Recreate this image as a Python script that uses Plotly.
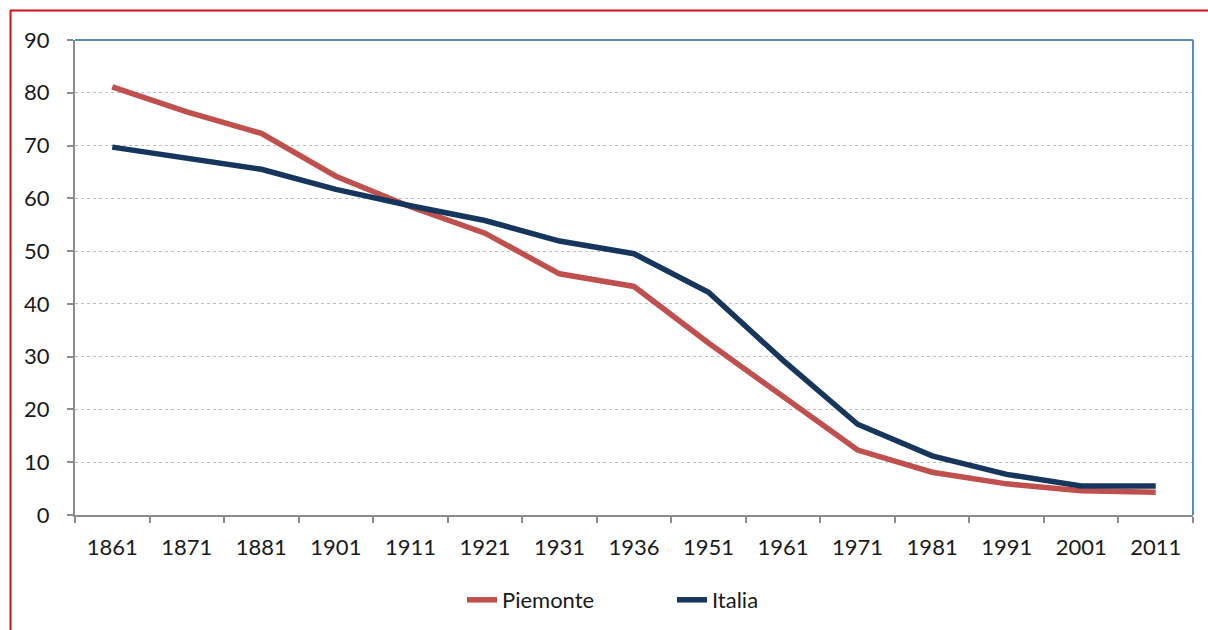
import plotly.graph_objects as go

years = ["1861", "1871", "1881", "1901", "1911", "1921", "1931", "1936",
         "1951", "1961", "1971", "1981", "1991", "2001", "2011"]
piemonte = [81.1, 76.4, 72.3, 64.2, 58.4, 53.4, 45.7, 43.3, 32.6, 22.4, 12.3, 8.1, 5.9, 4.6, 4.3]
italia = [69.7, 67.6, 65.5, 61.7, 58.6, 55.8, 51.9, 49.5, 42.2, 29.3, 17.2, 11.2, 7.7, 5.5, 5.5]
series_names = ["Piemonte", "Italia"]
colors = ["#C0504D", "#17365D"]

W, H = 1208, 630
L, R, T, B = 75, 15, 40, 115
pw, ph = W - L - R, H - T - B

def px_x(x):
    return (x - L) / pw

def px_y(y):
    return (H - B - y) / ph

FONT = "Lato"

fig = go.Figure()
for name, vals, c in zip(series_names, [piemonte, italia], colors):
    fig.add_trace(go.Scatter(x=years, y=vals, mode="lines", name=name,
                             line=dict(color=c, width=5.5)))

fig.update_layout(
    width=W, height=H,
    margin=dict(l=L, r=R, t=T, b=B, autoexpand=False),
    plot_bgcolor="white", paper_bgcolor="white",
    font=dict(family=FONT, size=22, color="#1a1a1a"),
    showlegend=True,
    legend=dict(orientation="h", x=px_x(462), xanchor="left",
                y=px_y(600), yanchor="middle", font=dict(size=22),
                entrywidth=165, tracegroupgap=0),
    xaxis=dict(type="category", range=[-0.5, len(years) - 0.5],
               tickson="boundaries", ticks="outside",
               ticklen=6, tickcolor="#8c8c8c", tickwidth=2,
               showline=True, linecolor="#8c8c8c", linewidth=2,
               showgrid=False, automargin=False, ticklabelstandoff=12),
    yaxis=dict(range=[0, 90], dtick=10, ticks="outside", ticklen=6,
               tickcolor="#8c8c8c", tickwidth=2,
               showline=True, linecolor="#8c8c8c", linewidth=2,
               showgrid=True, gridcolor="#bfbfbf", griddash="dot", gridwidth=1.3,
               zeroline=False, automargin=False, ticklabelstandoff=13),
    shapes=[
        dict(type="line", xref="paper", yref="paper", x0=0, x1=1, y0=1, y1=1,
             line=dict(color="#5B8BC9", width=2)),
        dict(type="line", xref="paper", yref="paper", x0=1, x1=1, y0=0, y1=1,
             line=dict(color="#5B8BC9", width=2)),
        dict(type="line", xref="paper", yref="paper", x0=px_x(10), x1=px_x(1240),
             y0=px_y(10.5), y1=px_y(10.5), line=dict(color="#D0101A", width=2)),
        dict(type="line", xref="paper", yref="paper", x0=px_x(10.5), x1=px_x(10.5),
             y0=px_y(10), y1=px_y(660), line=dict(color="#D0101A", width=2)),
    ],
)
fig.write_html("out.html", config={"displayModeBar": False},
               post_script="document.body.style.margin='0';document.body.style.overflow='hidden';")
